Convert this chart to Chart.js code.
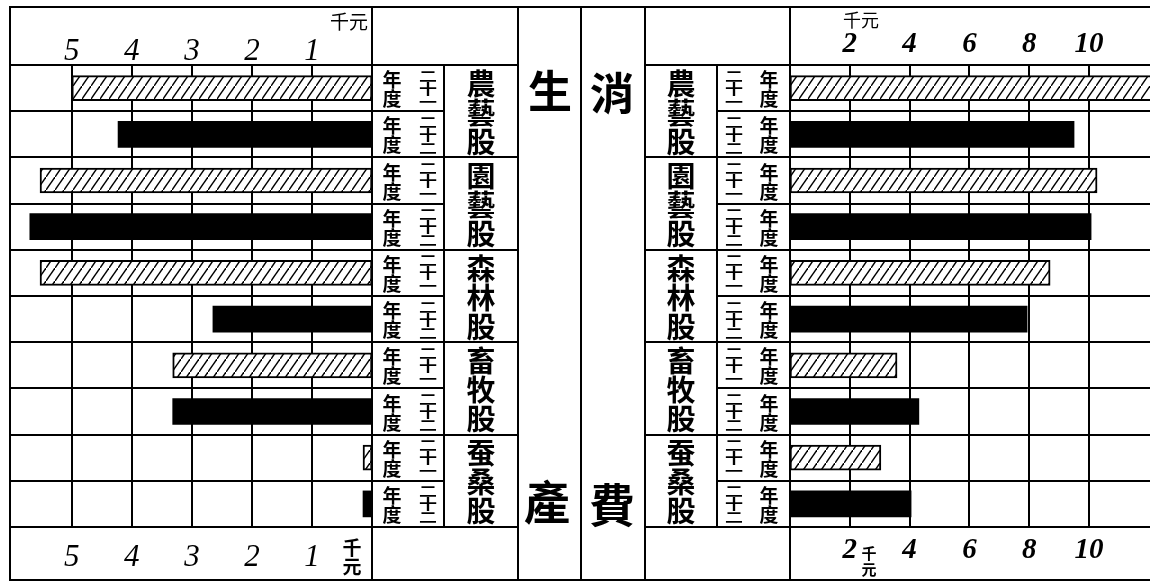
<!DOCTYPE html>
<html>
<head>
<meta charset="utf-8">
<script src="https://cdn.jsdelivr.net/npm/chart.js@4.4.1/dist/chart.umd.min.js"></script>
<style>
  html, body { margin: 0; padding: 0; background: #fff; }
  #page { position: relative; width: 1150px; height: 583px; overflow: hidden; background: #fff;
          font-family: "Noto Sans CJK TC", "Noto Sans CJK SC", sans-serif; color: #000; }
  .wrap { position: absolute; }
  .ln { position: absolute; background: #000; }
  .cjk { position: absolute; display: flex; flex-direction: column; align-items: center; line-height: 1; }
</style>
</head>
<body>
<div id="page">
  <div class="wrap" style="left:10px;top:8px;width:362px;height:573px"><canvas id="prodChart"></canvas></div>
  <div class="wrap" style="left:790px;top:8px;width:360px;height:573px"><canvas id="consChart"></canvas></div>
</div>
<script>
// 生產 / 消費 by division, 民國二十一年度 vs 二十二年度, in 千元
const divisions = ['農藝股', '園藝股', '森林股', '畜牧股', '蚕桑股'];
const years = ['二十一', '二十二'];
const production21 = [5.0, 5.53, 5.53, 3.32, 0.15];
const production22 = [4.23, 5.7, 2.65, 3.32, 0.15];
const consumption21 = [12.3, 10.27, 8.7, 3.58, 3.04];
const consumption22 = [9.5, 10.07, 7.93, 4.31, 4.05];
const prodTicks = [1, 2, 3, 4, 5];
const consTicks = [2, 4, 6, 8, 10];

const rows = [];
divisions.forEach(d => years.forEach(y => rows.push(d + ' ' + y + '年度')));

function interleave(a, b, which) {
    return rows.map((r, i) => (i % 2 === which ? (which === 0 ? a : b)[Math.floor(i / 2)] : null));
}

// hatched fill for 二十一年度
function hatch() {
    const c = document.createElement('canvas');
    c.width = 9; c.height = 13;
    const g = c.getContext('2d');
    g.fillStyle = '#fff';
    g.fillRect(0, 0, 9, 13);
    g.strokeStyle = '#000';
    g.lineWidth = 1.5;
    g.beginPath();
    g.moveTo(-1, 14.4); g.lineTo(10, -1.4);
    g.stroke();
    return g.createPattern(c, 'repeat');
}
const hatchFill = hatch();

function sideChart(canvasId, v21, v22, max, reverse, tickVals, font, topPad, botPad) {
    const setTicks = s => { s.ticks = tickVals.map(v => ({ value: v })); };
    new Chart(document.getElementById(canvasId), {
        type: 'bar',
        data: {
            labels: rows,
            datasets: [
                {
                    label: '二十一年度',
                    data: interleave(v21, v22, 0),
                    backgroundColor: hatchFill,
                    borderColor: '#000',
                    borderWidth: 2,
                    borderSkipped: false,
                    barThickness: 25,
                    grouped: false,
                },
                {
                    label: '二十二年度',
                    data: interleave(v21, v22, 1),
                    backgroundColor: '#000',
                    borderWidth: 0,
                    barThickness: 26,
                    grouped: false,
                }
            ]
        },
        options: {
            indexAxis: 'y',
            responsive: true,
            maintainAspectRatio: false,
            animation: false,
            layout: { padding: 0 },
            scales: {
                x: {
                    position: 'top', min: 0, max: max, reverse: reverse,
                    afterBuildTicks: setTicks,
                    afterFit: s => { s.height = 57; },
                    grid: { color: '#000', lineWidth: 2, drawTicks: false },
                    border: { display: false },
                    ticks: { font: font, color: '#000', padding: topPad, autoSkip: false, maxRotation: 0 },
                },
                x2: {
                    position: 'bottom', axis: 'x', min: 0, max: max, reverse: reverse,
                    afterBuildTicks: setTicks,
                    afterFit: s => { s.height = 54; },
                    grid: { display: false, drawTicks: false },
                    border: { display: false },
                    ticks: { font: font, color: '#000', padding: botPad, autoSkip: false, maxRotation: 0 },
                },
                y: {
                    ticks: { display: false },
                    afterFit: s => { s.width = 0; },
                    grid: { color: '#000', lineWidth: 2, drawTicks: false, offset: true },
                    border: { display: false },
                }
            },
            plugins: { legend: { display: false }, tooltip: { enabled: false } }
        }
    });
}

sideChart('prodChart', production21, production22, 6.03, true, prodTicks,
    { family: 'Liberation Serif', style: 'italic', size: 31 }, -5, 12);
sideChart('consChart', consumption21, consumption22, 12.04, false, consTicks,
    { family: 'Liberation Serif', style: 'italic', weight: 'bold', size: 29 }, 3, 6);

// ---- table frame and labels ----
const page = document.getElementById('page');
function line(x, y, w, h) {
    const d = document.createElement('div');
    d.className = 'ln';
    Object.assign(d.style, { left: x + 'px', top: y + 'px', width: w + 'px', height: h + 'px' });
    page.appendChild(d);
}
function stack(text, cx, cy, size, lh, weight, sy) {
    const d = document.createElement('div');
    d.className = 'cjk';
    d.style.fontSize = size + 'px';
    d.style.fontWeight = weight || 400;
    [...text].forEach(ch => {
        const s = document.createElement('div');
        s.textContent = ch;
        s.style.height = lh + 'px';
        s.style.lineHeight = lh + 'px';
        d.appendChild(s);
    });
    page.appendChild(d);
    const r = d.getBoundingClientRect();
    d.style.left = (cx - r.width / 2) + 'px';
    d.style.top = (cy - r.height / 2) + 'px';
    if (sy) d.style.transform = 'scaleY(' + sy + ')';
}
function text(t, x, y, size) {
    const d = document.createElement('div');
    d.className = 'cjk';
    d.textContent = t;
    d.style.fontSize = size + 'px';
    d.style.left = x + 'px';
    d.style.top = y + 'px';
    page.appendChild(d);
}

const top0 = 65, rowH = 46.2, bot0 = 527;
line(9, 6, 1141, 2);
line(9, 579, 1141, 2);
line(9, 6, 2, 575);
[372, 518, 581, 645, 790].forEach(x => line(x - 1, 6, 2, 575));
[444, 717].forEach(x => line(x - 1, top0, 2, bot0 - top0));
line(9, top0 - 1, 509, 2); line(645, top0 - 1, 505, 2);
line(9, bot0 - 1, 509, 2); line(645, bot0 - 1, 505, 2);
for (let i = 1; i < 10; i++) {
    const y = top0 + i * rowH - 1;
    if (i % 2 === 0) { line(372, y, 146, 2); line(645, y, 145, 2); }
    else { line(372, y, 72, 2); line(717, y, 73, 2); }
}

divisions.forEach((d, k) => {
    const cy = top0 + rowH * (2 * k + 1);
    stack(d, 481, cy, 29, 29, 700);
    stack(d, 681, cy, 29, 29, 700);
    years.forEach((y, j) => {
        const ry = top0 + rowH * (2 * k + j + 0.5);
        stack('年度', 392, ry, 19, 19, 700);
        stack(y, 428, ry, 18, 17, 700, 0.74);
        stack(y, 734, ry, 18, 17, 700, 0.74);
        stack('年度', 769, ry, 19, 19, 700);
    });
});

stack('生', 550, 89, 44, 44, 700);
stack('消', 612, 91, 44, 44, 700);
stack('產', 547, 499, 46, 46, 700);
stack('費', 612, 502, 46, 46, 700);

text('千元', 330, 11, 19);
text('千元', 843, 10, 18);
stack('千元', 352, 556, 19, 19, 700);
stack('千元', 869, 561, 15, 16, 700);
</script>
</body>
</html>
